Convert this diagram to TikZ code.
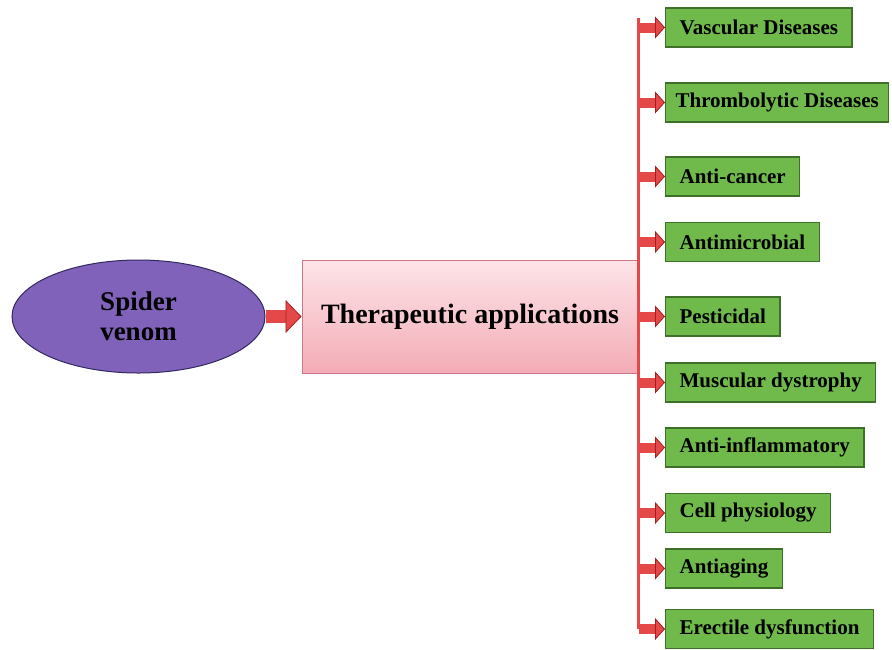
\documentclass[tikz,border=0pt]{standalone}
\usepackage{fontspec}
\setmainfont{Liberation Serif}
\usetikzlibrary{positioning,arrows.meta,shapes.geometric}

\definecolor{venomfill}{RGB}{128,98,186}
\definecolor{venomedge}{RGB}{52,40,96}
\definecolor{apptop}{RGB}{253,228,232}
\definecolor{appbot}{RGB}{243,172,182}
\definecolor{appedge}{RGB}{205,120,132}
\definecolor{usefill}{RGB}{112,186,76}
\definecolor{useedge}{RGB}{62,112,42}
\definecolor{arrowred}{RGB}{228,72,72}
\definecolor{arrowedge}{RGB}{165,30,30}

\begin{document}
\begin{tikzpicture}[
  x=1pt, y=-1pt,
  venom/.style={ellipse, draw=venomedge, line width=1pt, fill=venomfill,
                minimum width=253pt, minimum height=113pt, align=center,
                font=\fontsize{27}{30}\selectfont\bfseries},
  appbox/.style={draw=appedge, line width=1pt, top color=apptop, bottom color=appbot,
                 minimum width=336pt, minimum height=113pt, inner sep=0pt,
                 font=\fontsize{28}{30}\selectfont\bfseries},
  use/.style={draw=useedge, line width=1.2pt, fill=usefill, anchor=west,
              minimum height=39pt, inner xsep=14pt, inner ysep=0pt,
              font=\fontsize{21}{23}\selectfont\bfseries},
  bigarr/.style={-{Triangle[length=16pt,width=33pt,line width=0.8pt,
                 fill=arrowred,color=arrowedge]}, line width=13pt, arrowred},
  arr/.style={-{Triangle[length=10pt,width=22pt,line width=0.8pt,
              fill=arrowred,color=arrowedge]}, line width=10pt, arrowred},
  spine/.style={line width=3pt, arrowred},
]
\useasboundingbox (0,0) rectangle (892,649);

% ---------- source and main box ----------
\node[venom] (venom) at (138.5,316.5) {Spider\\venom};
\node[appbox] (app) at (470,316.5) {Therapeutic applications};
\draw[bigarr] (venom.east) -- (app.west);

% ---------- applications ----------
\node[use] (u1) at (665,27.5) {Vascular Diseases};
\node[use, inner xsep=10pt] (u2) at (665,102.5) {Thrombolytic Diseases};
\node[use] (u3) at (665,176.5) {Anti-cancer};
\node[use] (u4) at (665,242) {Antimicrobial};
\node[use] (u5) at (665,316.5) {Pesticidal};
\node[use] (u6) at (665,382.5) {Muscular dystrophy};
\node[use] (u7) at (665,447.5) {Anti-inflammatory};
\node[use] (u8) at (665,513) {Cell physiology};
\node[use] (u9) at (665,568.5) {Antiaging};
\node[use] (u10) at (665,629) {Erectile dysfunction};

% ---------- spine along the right edge of the main box ----------
\coordinate (spinetop) at (app.east |- 0,18);
\coordinate (spinebot) at (app.east |- u10.west);
\draw[spine] (spinetop) -- (spinebot);

\draw[arr] (spinetop |- u1.west) -- (u1.west);
\draw[arr] (spinetop |- u2.west) -- (u2.west);
\draw[arr] (spinetop |- u3.west) -- (u3.west);
\draw[arr] (spinetop |- u4.west) -- (u4.west);
\draw[arr] (spinetop |- u5.west) -- (u5.west);
\draw[arr] (spinetop |- u6.west) -- (u6.west);
\draw[arr] (spinetop |- u7.west) -- (u7.west);
\draw[arr] (spinetop |- u8.west) -- (u8.west);
\draw[arr] (spinetop |- u9.west) -- (u9.west);
\draw[arr] (spinebot) -- (u10.west);

\end{tikzpicture}
\end{document}
